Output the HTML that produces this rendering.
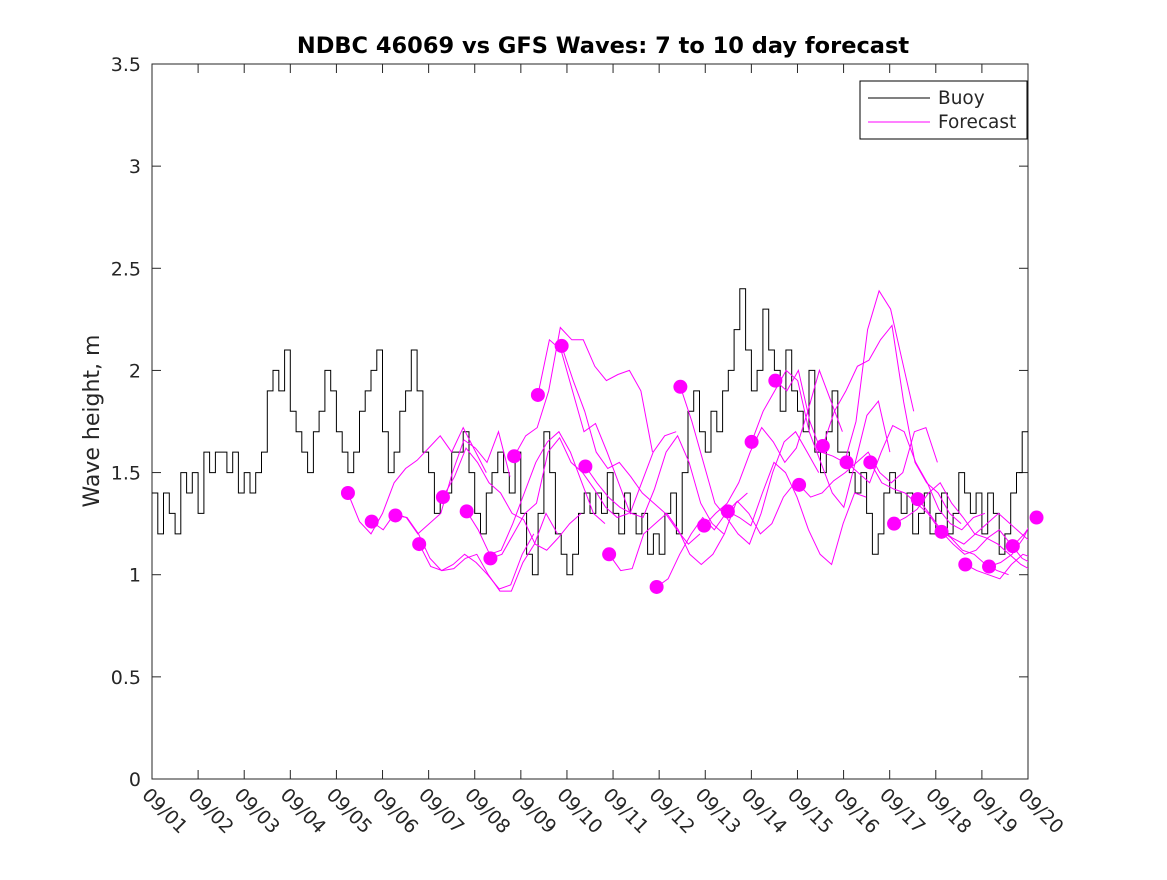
<!DOCTYPE html>
<html><head><meta charset="utf-8"><style>
body{margin:0;background:#fff;}
svg text{font-family:"DejaVu Sans","Liberation Sans",sans-serif;}
</style></head><body>
<svg id="chart" width="1167" height="875" viewBox="0 0 1167 875" xmlns="http://www.w3.org/2000/svg">
<rect width="1167" height="875" fill="#fff"/>
<defs><clipPath id="pc"><rect x="152" y="64" width="876" height="715"/></clipPath></defs>
<text x="603" y="53" text-anchor="middle" font-size="22.5" font-weight="bold">NDBC 46069 vs GFS Waves: 7 to 10 day forecast</text>
<text transform="translate(99,421) rotate(-90)" text-anchor="middle" font-size="22" fill="#262626">Wave height, m</text>
<g id="axes"></g>
<g id="series" clip-path="url(#pc)"></g>
<g id="dots"></g>
<g>
<rect x="860" y="81" width="167" height="58" fill="#fff" stroke="#000" stroke-width="1"/>
<line x1="868" y1="98" x2="930" y2="98" stroke="#000"/>
<text x="938" y="104" font-size="18.5" fill="#262626">Buoy</text>
<line x1="868" y1="122" x2="930" y2="122" stroke="#f0f"/>
<text x="938" y="128" font-size="18.5" fill="#262626">Forecast</text>
</g>
</svg>
<script>
const xTickLabels=["09/01","09/02","09/03","09/04","09/05","09/06","09/07","09/08","09/09","09/10","09/11","09/12","09/13","09/14","09/15","09/16","09/17","09/18","09/19","09/20"];
const yTicks=[0,0.5,1,1.5,2,2.5,3,3.5];
const buoyPerDay=8;
const buoy=[
1.4,1.2,1.4,1.3,1.2,1.5,1.4,1.5,
1.3,1.6,1.5,1.6,1.6,1.5,1.6,1.4,
1.5,1.4,1.5,1.6,1.9,2.0,1.9,2.1,
1.8,1.7,1.6,1.5,1.7,1.8,2.0,1.9,
1.7,1.6,1.5,1.6,1.8,1.9,2.0,2.1,
1.7,1.5,1.6,1.8,1.9,2.1,1.9,1.6,
1.5,1.3,1.4,1.4,1.6,1.6,1.7,1.5,
1.3,1.2,1.4,1.5,1.6,1.5,1.4,1.6,
1.3,1.1,1.0,1.3,1.7,1.5,1.2,1.1,
1.0,1.1,1.3,1.4,1.3,1.4,1.3,1.5,
1.3,1.2,1.4,1.3,1.2,1.3,1.1,1.2,
1.1,1.3,1.4,1.2,1.5,1.8,1.9,1.7,
1.6,1.8,1.7,1.9,2.0,2.2,2.4,2.1,
1.9,2.0,2.3,2.1,2.0,1.8,2.1,1.9,
1.8,1.7,2.0,1.6,1.5,1.7,1.9,1.6,
1.6,1.5,1.4,1.5,1.3,1.1,1.2,1.4,
1.5,1.4,1.3,1.4,1.2,1.3,1.4,1.2,
1.3,1.4,1.2,1.3,1.5,1.4,1.3,1.4,
1.2,1.4,1.3,1.1,1.2,1.4,1.5,1.7];
const fcStart=4.25, fcSpacing=0.515, fcStep=0.25;
const forecasts=[
[1.40,1.26,1.20,1.30,1.45,1.52,1.56,1.62,1.68,1.60,1.72,1.61,1.50],
[1.26,1.22,1.30,1.28,1.20,1.25,1.30,1.50,1.66,1.62,1.55,1.70,1.48],
[1.29,1.28,1.20,1.08,1.02,1.05,1.10,1.06,1.00,0.93,0.95,1.10,1.20],
[1.15,1.04,1.02,1.03,1.08,1.10,1.00,0.92,0.92,1.06,1.15,1.30,1.20],
[1.38,1.48,1.62,1.55,1.45,1.40,1.30,1.27,1.15,1.12,1.18,1.25,1.30],
[1.31,1.22,1.10,1.12,1.25,1.40,1.55,1.65,1.70,1.60,1.45,1.30,1.25],
[1.08,1.10,1.20,1.30,1.35,1.60,1.67,1.55,1.50,1.42,1.33,1.28,1.30],
[1.58,1.68,1.72,1.90,2.21,2.15,2.15,2.02,1.95,1.98,2.00,1.90,1.60],
[1.88,2.15,2.10,1.90,1.70,1.74,1.60,1.45,1.30,1.45,1.60,1.68,1.70],
[2.12,1.95,1.80,1.60,1.52,1.55,1.48,1.40,1.35,1.30,1.22,1.15,1.20],
[1.53,1.45,1.38,1.33,1.30,1.28,1.42,1.60,1.68,1.55,1.35,1.25,1.20],
[1.10,1.02,1.03,1.20,1.25,1.30,1.22,1.10,1.05,1.10,1.20,1.35,1.40],
null,
[0.94,0.98,1.10,1.20,1.28,1.22,1.30,1.36,1.30,1.20,1.25,1.38,1.45],
[1.92,1.75,1.55,1.35,1.28,1.20,1.15,1.30,1.50,1.65,1.70,1.60,1.50],
[1.24,1.30,1.35,1.45,1.60,1.72,1.65,1.55,1.62,1.80,2.00,1.85,1.70],
[1.31,1.28,1.24,1.40,1.55,1.50,1.38,1.22,1.10,1.05,1.25,1.40,1.38],
[1.65,1.80,1.90,2.00,1.95,1.70,1.55,1.40,1.33,1.55,1.78,1.85,1.60],
[1.95,1.90,2.00,1.75,1.60,1.58,1.55,1.75,2.20,2.39,2.30,2.05,1.80],
[1.44,1.38,1.40,1.46,1.50,1.55,1.60,1.50,1.45,1.50,1.70,1.72,1.55],
[1.63,1.80,1.90,2.02,2.05,2.15,2.22,1.85,1.55,1.45,1.40,1.30,1.25],
[1.55,1.50,1.45,1.60,1.73,1.70,1.55,1.45,1.32,1.25,1.22,1.28,1.30],
[1.55,1.45,1.42,1.40,1.35,1.30,1.22,1.18,1.12,1.10,1.05,1.02,1.00],
[1.25,1.28,1.32,1.40,1.45,1.35,1.28,1.20,1.18,1.15,1.10,1.05,1.02],
[1.37,1.30,1.22,1.18,1.15,1.20,1.25,1.30,1.25,1.20,1.15,1.10,1.08],
[1.21,1.15,1.10,1.12,1.18,1.22,1.15,1.08,1.05,1.10,1.15,1.12],
[1.05,1.02,1.00,0.98,1.05,1.10,1.08,1.02,0.98,1.00],
[1.04,1.06,1.10,1.18,1.30,1.36,1.35,1.28],
[1.14,1.20,1.28,1.30,1.27,1.25],
[1.28]];

const X0=152,X1=1028,Y0=779,Y1=64;
const xs=d=>X0+d*(X1-X0)/19;
const ys=v=>Y0-v*(Y0-Y1)/3.5;
const NS="http://www.w3.org/2000/svg";
function mk(tag,attrs,parent){const e=document.createElementNS(NS,tag);for(const k in attrs)e.setAttribute(k,attrs[k]);parent.appendChild(e);return e;}
const axes=document.getElementById('axes'),series=document.getElementById('series'),dots=document.getElementById('dots');
const frame=mk('rect',{x:X0,y:Y1,width:X1-X0,height:Y0-Y1,fill:'none',stroke:'#262626','stroke-width':1},axes);


xTickLabels.forEach((lab,i)=>{
  const x=xs(i);
  mk('line',{x1:x,y1:Y0,x2:x,y2:Y0-9,stroke:'#262626'},axes);
  mk('line',{x1:x,y1:Y1,x2:x,y2:Y1+9,stroke:'#262626'},axes);
  const t=mk('text',{x:0,y:0,transform:`translate(${x-11},${Y0+17}) rotate(45)`,'font-size':19,fill:'#262626'},axes);
  t.textContent=lab;
  
  
});
yTicks.forEach(v=>{
  const y=ys(v);
  mk('line',{x1:X0,y1:y,x2:X0+9,y2:y,stroke:'#262626'},axes);
  mk('line',{x1:X1,y1:y,x2:X1-9,y2:y,stroke:'#262626'},axes);
  const t=mk('text',{x:X0-11,y:y+7,'text-anchor':'end','font-size':19,fill:'#262626'},axes);
  t.textContent=String(v);
  
  
});
let p='';
buoy.forEach((v,i)=>{
  const xa=xs(i/buoyPerDay),xb=xs((i+1)/buoyPerDay),y=ys(v);
  p+=(i===0?'M':'L')+xa.toFixed(1)+','+y.toFixed(1)+'L'+xb.toFixed(1)+','+y.toFixed(1);
});
const bl=mk('path',{d:p,fill:'none',stroke:'#000','stroke-width':1},series);


forecasts.forEach((f,i)=>{
  if(!f)return;
  const d0=fcStart+i*fcSpacing;
  const pts=f.map((v,j)=>xs(d0+j*fcStep).toFixed(1)+','+ys(v).toFixed(1)).join(' ');
  if(f.length>1){
    const l=mk('polyline',{points:pts,fill:'none',stroke:'#f0f','stroke-width':1},series);
    
    
  }
  const c=mk('circle',{cx:xs(d0),cy:ys(f[0]),r:7,fill:'#f0f'},dots);
  
  
});
</script>
</body></html>
